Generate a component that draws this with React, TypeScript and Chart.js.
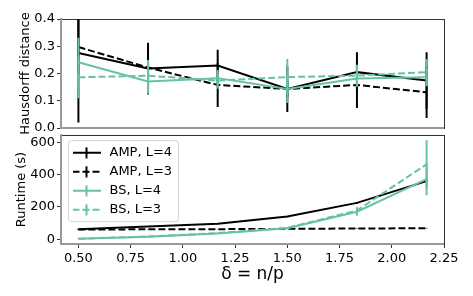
import React, { useEffect, useRef } from 'react';
import { Chart, registerables } from 'chart.js';

Chart.register(...registerables);

const W = 473;
const H = 296;

// ---------- data ----------
const deltas = [0.5, 0.8333, 1.1667, 1.5, 1.8333, 2.1667];
const xTicks = [0.5, 0.75, 1.0, 1.25, 1.5, 1.75, 2.0, 2.25];
const hdTicks = [0, 0.1, 0.2, 0.3, 0.4];
const rtTicks = [0, 200, 400, 600];
const seriesLabels = ['AMP, L=4', 'AMP, L=3', 'BS, L=4', 'BS, L=3'];

// Hausdorff distance
const hdAmpL4 = [0.275, 0.218, 0.229, 0.143, 0.205, 0.174];
const hdAmpL4Err = [0.255, 0.095, 0.058, 0.03, 0.073, 0.104];
const hdAmpL3 = [0.297, 0.222, 0.158, 0.143, 0.158, 0.131];
const hdAmpL3Err = [0.1, 0.07, 0.081, 0.084, 0.085, 0.094];
const hdBsL4 = [0.241, 0.171, 0.183, 0.143, 0.182, 0.186];
const hdBsL4Err = [0.09, 0.045, 0.03, 0.051, 0.03, 0.033];
const hdBsL3 = [0.186, 0.192, 0.174, 0.187, 0.192, 0.205];
const hdBsL3Err = [0.077, 0.058, 0.03, 0.066, 0.04, 0.048];

// Runtime (s)
const rtAmpL4 = [62, 78, 95, 140, 225, 360];
const rtAmpL4Err = [2, 2, 3, 4, 6, 10];
const rtAmpL3 = [60, 61, 62, 64, 66, 68];
const rtAmpL3Err = [1, 1, 1, 1, 1, 2];
const rtBsL4 = [3, 15, 35, 68, 170, 372];
const rtBsL4Err = [1, 2, 3, 5, 25, 100];
const rtBsL3 = [3, 16, 38, 70, 178, 464];
const rtBsL3Err = [1, 2, 3, 5, 20, 150];

const X_MIN = 0.41667;
const X_MAX = 2.25;
const HD_MIN = 0;
const HD_MAX = 0.4;
const RT_MIN = -30;
const RT_MAX = 646;

const BLACK = '#000000';
const GREEN = '#66c2a5';
const DASH = [7, 3];

const series = [
  { label: seriesLabels[0], color: BLACK, dashed: false, hd: hdAmpL4, hdErr: hdAmpL4Err, rt: rtAmpL4, rtErr: rtAmpL4Err },
  { label: seriesLabels[1], color: BLACK, dashed: true, hd: hdAmpL3, hdErr: hdAmpL3Err, rt: rtAmpL3, rtErr: rtAmpL3Err },
  { label: seriesLabels[2], color: GREEN, dashed: false, hd: hdBsL4, hdErr: hdBsL4Err, rt: rtBsL4, rtErr: rtBsL4Err },
  { label: seriesLabels[3], color: GREEN, dashed: true, hd: hdBsL3, hdErr: hdBsL3Err, rt: rtBsL3, rtErr: rtBsL3Err },
];

function errPoints(xs: number[], ys: number[], es: number[]) {
  const pts: { x: number; y: number | null }[] = [];
  xs.forEach((x, i) => {
    pts.push({ x, y: ys[i] - es[i] });
    pts.push({ x, y: ys[i] + es[i] });
    pts.push({ x, y: null });
  });
  return pts;
}

function buildDatasets(metric: 'hd' | 'rt') {
  const ds: any[] = [];
  series.forEach((s, k) => {
    const ys = metric === 'hd' ? s.hd : s.rt;
    const es = metric === 'hd' ? s.hdErr : s.rtErr;
    ds.push({
      label: s.label,
      data: deltas.map((x, i) => ({ x, y: ys[i] })),
      borderColor: s.color,
      backgroundColor: s.color,
      borderWidth: 2,
      borderDash: s.dashed ? DASH : [],
      pointRadius: 0,
      tension: 0,
      order: 100 - 2 * k,
      xAxisID: 'x',
      yAxisID: 'y',
    });
    ds.push({
      label: s.label + ' err',
      data: errPoints(deltas, ys, es),
      borderColor: s.color,
      backgroundColor: s.color,
      borderWidth: 2,
      pointRadius: 0,
      spanGaps: false,
      order: 99 - 2 * k,
      xAxisID: 'x',
      yAxisID: 'y',
    });
  });
  return ds;
}

function makeHandle(color: string, dashed: boolean) {
  const c = document.createElement('canvas');
  c.width = 28;
  c.height = 12;
  const ctx = c.getContext('2d')!;
  ctx.strokeStyle = color;
  ctx.lineWidth = 2;
  ctx.setLineDash(dashed ? DASH : []);
  ctx.beginPath();
  ctx.moveTo(0, 6);
  ctx.lineTo(28, 6);
  ctx.stroke();
  ctx.setLineDash([]);
  ctx.beginPath();
  ctx.moveTo(14, 0.5);
  ctx.lineTo(14, 11.5);
  ctx.stroke();
  return c;
}

const FONT = "'DejaVu Sans', sans-serif";

function sideAxis(position: 'top' | 'right', size: number, min: number, max: number) {
  return {
    type: 'linear',
    position,
    min,
    max,
    ticks: { display: false },
    grid: { display: false },
    border: { color: '#333', width: 1 },
    afterFit: (s: any) => {
      if (position === 'top') s.height = size;
      else s.width = size;
      s.paddingLeft = 0;
      s.paddingRight = 0;
      s.paddingTop = 0;
      s.paddingBottom = 0;
    },
  };
}

const legendBoxPlugin = {
  id: 'legendBox',
  afterLayout(chart: any) {
    const lg = chart.legend;
    if (!lg) return;
    lg.left = chart.chartArea.left + 3;
    lg.top = chart.chartArea.top + 5.2;
    lg.bottom = chart.chartArea.bottom;
    lg.height = lg.bottom - lg.top;
  },
  beforeDraw(chart: any) {
    const lg = chart.legend;
    if (!lg) return;
    const ctx = chart.ctx;
    const x = lg.left + 4.5;
    const y = lg.top + 0.5;
    const w = 110;
    const h = 81;
    const r = 3;
    ctx.save();
    ctx.beginPath();
    ctx.moveTo(x + r, y);
    ctx.lineTo(x + w - r, y);
    ctx.arcTo(x + w, y, x + w, y + r, r);
    ctx.lineTo(x + w, y + h - r);
    ctx.arcTo(x + w, y + h, x + w - r, y + h, r);
    ctx.lineTo(x + r, y + h);
    ctx.arcTo(x, y + h, x, y + h - r, r);
    ctx.lineTo(x, y + r);
    ctx.arcTo(x, y, x + r, y, r);
    ctx.closePath();
    ctx.fillStyle = 'rgba(255,255,255,0.8)';
    ctx.fill();
    ctx.strokeStyle = '#d4d4d4';
    ctx.lineWidth = 1;
    ctx.stroke();
    ctx.restore();
  },
};

export default function App() {
  const topRef = useRef<HTMLCanvasElement>(null);
  const botRef = useRef<HTMLCanvasElement>(null);

  useEffect(() => {
    Chart.defaults.font.family = FONT;
    Chart.defaults.font.size = 13;
    Chart.defaults.color = '#000';

    const handles = series.map((s) => makeHandle(s.color, s.dashed));

    const top = new Chart(topRef.current!, {
      type: 'line',
      data: { datasets: buildDatasets('hd') },
      options: {
        responsive: false,
        animation: false,
        plugins: { legend: { display: false }, tooltip: { enabled: false } },
        scales: {
          x: {
            type: 'linear',
            position: 'bottom',
            min: X_MIN,
            max: X_MAX,
            ticks: { display: false },
            grid: { display: false },
            border: { color: '#999', width: 2 },
            afterFit: (s: any) => {
              s.height = H - 128;
              s.paddingLeft = 0;
              s.paddingRight = 0;
            },
          },
          x2: sideAxis('top', 19, X_MIN, X_MAX),
          y: {
            type: 'linear',
            position: 'left',
            min: HD_MIN,
            max: HD_MAX,
            afterBuildTicks: (s: any) => {
              s.ticks = hdTicks.map((v) => ({ value: v }));
            },
            ticks: {
              callback: (v: any) => Number(v).toFixed(1),
              color: '#000',
              font: { size: 13 },
              padding: 2,
            },
            grid: { display: true, drawOnChartArea: false, tickLength: 4, tickColor: '#333', tickWidth: 1 },
            border: { color: '#999', width: 2 },
            title: {
              display: true,
              text: 'Hausdorff distance',
              color: '#000',
              font: { size: 13 },
              padding: { top: 17.5, bottom: 0 },
            },
            afterFit: (s: any) => {
              s.width = 61;
              s.paddingTop = 0;
              s.paddingBottom = 0;
            },
          },
          y2: sideAxis('right', W - 444, 0, 1),
        },
      },
    } as any);

    const bot = new Chart(botRef.current!, {
      type: 'line',
      data: { datasets: buildDatasets('rt') },
      options: {
        responsive: false,
        animation: false,
        plugins: {
          tooltip: { enabled: false },
          legend: {
            display: true,
            position: 'chartArea',
            align: 'start',
            labels: {
              usePointStyle: true,
              pointStyleWidth: 33,
              padding: 6,
              color: '#000',
              font: { size: 13 },
              generateLabels: () =>
                series.map((s, i) => ({
                  text: s.label,
                  pointStyle: handles[i],
                  fillStyle: s.color,
                  strokeStyle: s.color,
                  lineWidth: 0,
                  hidden: false,
                  datasetIndex: i * 2,
                  fontColor: '#000',
                })),
            },
          },
        },
        scales: {
          x: {
            type: 'linear',
            position: 'bottom',
            min: X_MIN,
            max: X_MAX,
            afterBuildTicks: (s: any) => {
              s.ticks = xTicks.map((v) => ({ value: v }));
            },
            ticks: {
              callback: (v: any) => Number(v).toFixed(2),
              color: '#000',
              font: { size: 13 },
              padding: 3,
              maxRotation: 0,
              autoSkip: false,
            },
            grid: { display: true, drawOnChartArea: false, tickLength: 4, tickColor: '#333', tickWidth: 1 },
            border: { color: '#999', width: 2 },
            title: {
              display: true,
              text: 'δ = n/p',
              color: '#000',
              font: { size: 17 },
              padding: { top: 0, bottom: 11 },
            },
            afterFit: (s: any) => {
              s.height = H - 244;
              s.paddingLeft = 0;
              s.paddingRight = 0;
            },
          },
          x2: sideAxis('top', 135, X_MIN, X_MAX),
          y: {
            type: 'linear',
            position: 'left',
            min: RT_MIN,
            max: RT_MAX,
            afterBuildTicks: (s: any) => {
              s.ticks = rtTicks.map((v) => ({ value: v }));
            },
            ticks: {
              callback: (v: any) => String(v),
              color: '#000',
              font: { size: 13 },
              padding: 2,
            },
            grid: { display: true, drawOnChartArea: false, tickLength: 4, tickColor: '#333', tickWidth: 1 },
            border: { color: '#999', width: 2 },
            title: {
              display: true,
              text: 'Runtime (s)',
              color: '#000',
              font: { size: 13 },
              padding: { top: 13.6, bottom: 0 },
            },
            afterFit: (s: any) => {
              s.width = 61;
              s.paddingTop = 0;
              s.paddingBottom = 0;
            },
          },
          y2: sideAxis('right', W - 444, 0, 1),
        },
      },
      plugins: [legendBoxPlugin],
    } as any);

    return () => {
      top.destroy();
      bot.destroy();
    };
  }, []);

  return (
    <div style={{ position: 'fixed', left: 0, top: 0, width: W, height: H, background: '#fff' }}>
      <canvas ref={topRef} width={W} height={H} style={{ position: 'absolute', left: 0, top: 0, width: W, height: H }} />
      <canvas ref={botRef} width={W} height={H} style={{ position: 'absolute', left: 0, top: 0, width: W, height: H }} />
    </div>
  );
}
